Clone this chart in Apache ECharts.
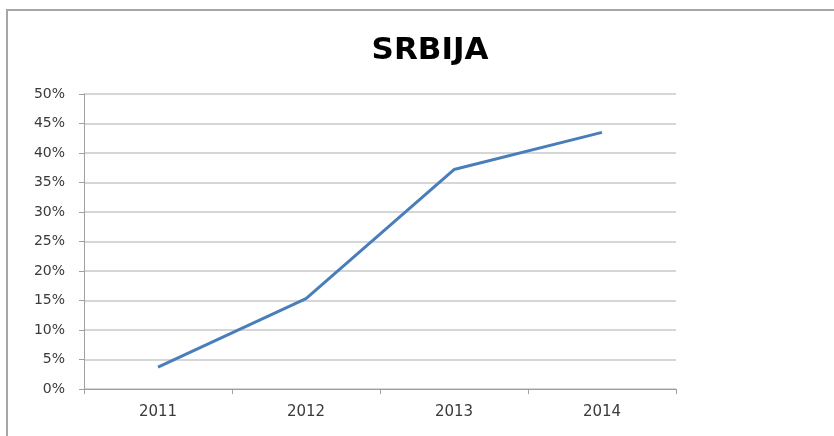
<!DOCTYPE html>
<html>
<head>
<meta charset="utf-8">
<script src="https://cdn.jsdelivr.net/npm/echarts@6/dist/echarts.min.js"></script>
<style>
  html, body { margin: 0; padding: 0; background: #fff; }
  #frame { position: absolute; left: 0; top: 0; width: 834px; height: 436px; }
  #border { position: absolute; left: 6px; top: 9px; width: 828px; height: 427px;
            border-top: 2px solid #a6a6a6; border-left: 2px solid #a6a6a6; box-sizing: border-box; }
  #chart { position: absolute; left: 0; top: 0; width: 834px; height: 436px; }
</style>
</head>
<body>
<div id="frame">
  <div id="border"></div>
  <div id="chart"></div>
</div>
<script>
const chartTitle = 'SRBIJA';
const categories = ['2011', '2012', '2013', '2014'];
const values = [3.7, 15.3, 37.2, 43.5];
const yTicks = { min: 0, max: 50, interval: 5 };

const chart = echarts.init(document.getElementById('chart'), null, { renderer: 'canvas' });
chart.setOption({
  backgroundColor: 'transparent',
  animation: false,
  title: {
    text: chartTitle,
    left: 425, top: 30, textAlign: 'center',
    textStyle: { fontFamily: 'DejaVu Sans', fontWeight: 'bold', fontSize: 31, color: '#000' }
  },
  grid: { left: 84, right: 158, top: 94, bottom: 47, containLabel: false },
  xAxis: {
    type: 'category',
    data: categories,
    boundaryGap: true,
    axisLine: { lineStyle: { color: '#a0a0a0', width: 1 } },
    axisTick: { show: true, length: 5, inside: false, alignWithLabel: false, lineStyle: { color: '#a0a0a0' } },
    axisLabel: { fontFamily: 'DejaVu Sans', fontSize: 15, color: '#3a3a3a', margin: 16 },
    splitLine: { show: false }
  },
  yAxis: {
    type: 'value',
    min: yTicks.min, max: yTicks.max, interval: yTicks.interval,
    axisLine: { show: true, lineStyle: { color: '#a0a0a0', width: 1 } },
    axisTick: { show: true, length: 5, lineStyle: { color: '#a0a0a0' } },
    axisLabel: { fontFamily: 'DejaVu Sans', fontSize: 14, color: '#3a3a3a', margin: 19, formatter: v => v + '%' },
    splitLine: { show: true, lineStyle: { color: '#c8c8c8', width: 1.5 } }
  },
  series: [{
    type: 'line',
    data: values,
    symbol: 'none',
    lineStyle: { color: '#4a7ebb', width: 3 },
    itemStyle: { color: '#4a7ebb' }
  }]
});
</script>
</body>
</html>
